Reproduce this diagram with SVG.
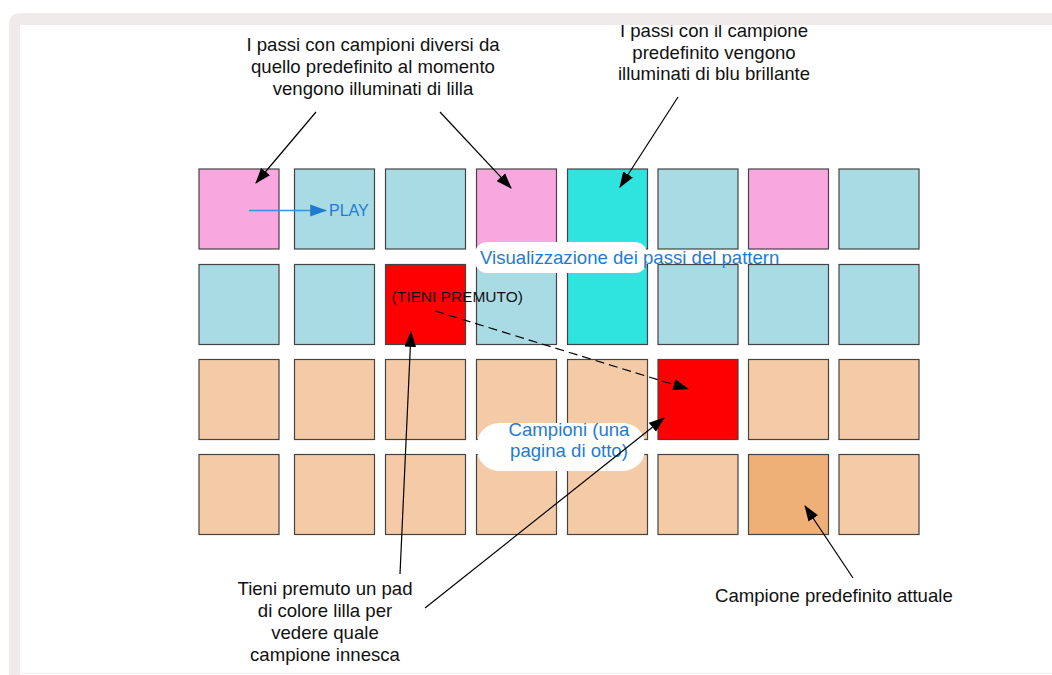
<svg xmlns="http://www.w3.org/2000/svg" width="1052" height="675" viewBox="0 0 1052 675">
  <defs>
    <marker id="arrow" viewBox="0 0 14 10" refX="13" refY="5" markerWidth="16" markerHeight="12" markerUnits="userSpaceOnUse" orient="auto">
      <path d="M0,0 L14,5 L0,10 z" fill="#000"/>
    </marker>
    <marker id="arrow-blue" viewBox="0 0 14 10" refX="13" refY="5" markerWidth="17" markerHeight="13" markerUnits="userSpaceOnUse" orient="auto">
      <path d="M0,0 L14,5 L0,10 z" fill="#1f7bd0"/>
    </marker>
  </defs>
  <style>
    .pad { stroke: #444; stroke-width: 1.2; }
    .lilac { fill: #f9a8df; }
    .step { fill: #a9dbe4; }
    .bright { fill: #2fe3df; }
    .held { fill: #ff0000; }
    .sample { fill: #f4cba6; }
    .current { fill: #efb077; }
    .label { font-family: "Liberation Sans", Arial, sans-serif; font-size: 18.6px; fill: #111; }
    .blue { font-family: "Liberation Sans", Arial, sans-serif; font-size: 18.6px; fill: #1f7bd0; }
    .small { font-size: 16px; }
    .tag { font-size: 15.5px; }
    .lead { stroke: #000; stroke-width: 1.2; fill: none; marker-end: url(#arrow); }
  </style>

  <rect x="0" y="0" width="1052" height="675" fill="#fff"/>

  <!-- pad grid: 8 x 4 -->
  <g id="pads">
    <g id="row1">
      <rect id="pad-1-1" class="pad lilac" x="199" y="169" width="80" height="80"/>
      <rect id="pad-1-2" class="pad step" x="294.5" y="169" width="80" height="80"/>
      <rect id="pad-1-3" class="pad step" x="385.5" y="169" width="80" height="80"/>
      <rect id="pad-1-4" class="pad lilac" x="476.5" y="169" width="80" height="80"/>
      <rect id="pad-1-5" class="pad bright" x="567.5" y="169" width="80" height="80"/>
      <rect id="pad-1-6" class="pad step" x="658" y="169" width="80" height="80"/>
      <rect id="pad-1-7" class="pad lilac" x="748.5" y="169" width="80" height="80"/>
      <rect id="pad-1-8" class="pad step" x="839" y="169" width="80" height="80"/>
    </g>
    <g id="row2">
      <rect id="pad-2-1" class="pad step" x="199" y="264.5" width="80" height="80"/>
      <rect id="pad-2-2" class="pad step" x="294.5" y="264.5" width="80" height="80"/>
      <rect id="pad-2-3" class="pad held" x="385.5" y="264.5" width="80" height="80"/>
      <rect id="pad-2-4" class="pad step" x="476.5" y="264.5" width="80" height="80"/>
      <rect id="pad-2-5" class="pad bright" x="567.5" y="264.5" width="80" height="80"/>
      <rect id="pad-2-6" class="pad step" x="658" y="264.5" width="80" height="80"/>
      <rect id="pad-2-7" class="pad step" x="748.5" y="264.5" width="80" height="80"/>
      <rect id="pad-2-8" class="pad step" x="839" y="264.5" width="80" height="80"/>
    </g>
    <g id="row3">
      <rect id="pad-3-1" class="pad sample" x="199" y="359.5" width="80" height="80"/>
      <rect id="pad-3-2" class="pad sample" x="294.5" y="359.5" width="80" height="80"/>
      <rect id="pad-3-3" class="pad sample" x="385.5" y="359.5" width="80" height="80"/>
      <rect id="pad-3-4" class="pad sample" x="476.5" y="359.5" width="80" height="80"/>
      <rect id="pad-3-5" class="pad sample" x="567.5" y="359.5" width="80" height="80"/>
      <rect id="pad-3-6" class="pad held" x="658" y="359.5" width="80" height="80"/>
      <rect id="pad-3-7" class="pad sample" x="748.5" y="359.5" width="80" height="80"/>
      <rect id="pad-3-8" class="pad sample" x="839" y="359.5" width="80" height="80"/>
    </g>
    <g id="row4">
      <rect id="pad-4-1" class="pad sample" x="199" y="454.5" width="80" height="80"/>
      <rect id="pad-4-2" class="pad sample" x="294.5" y="454.5" width="80" height="80"/>
      <rect id="pad-4-3" class="pad sample" x="385.5" y="454.5" width="80" height="80"/>
      <rect id="pad-4-4" class="pad sample" x="476.5" y="454.5" width="80" height="80"/>
      <rect id="pad-4-5" class="pad sample" x="567.5" y="454.5" width="80" height="80"/>
      <rect id="pad-4-6" class="pad sample" x="658" y="454.5" width="80" height="80"/>
      <rect id="pad-4-7" class="pad current" x="748.5" y="454.5" width="80" height="80"/>
      <rect id="pad-4-8" class="pad sample" x="839" y="454.5" width="80" height="80"/>
    </g>
  </g>

  <!-- section captions on white pills -->
  <g id="steps-caption">
    <rect x="475" y="242" width="172" height="31" rx="12" fill="#fff"/>
    <text class="blue" x="480" y="264">Visualizzazione dei passi del pattern</text>
  </g>
  <g id="samples-caption">
    <rect x="477" y="423" width="168" height="48" rx="22" fill="#fff"/>
    <text class="blue" text-anchor="middle" x="569" y="436">Campioni (una</text>
    <text class="blue" text-anchor="middle" x="569" y="457">pagina di otto)</text>
  </g>

  <g id="play-label">
    <text class="blue small" x="329" y="215.5">PLAY</text>
  </g>
  <g id="held-label">
    <text class="label tag" x="391.5" y="301.5">(TIENI PREMUTO)</text>
  </g>

  <!-- connectors -->
  <g id="connectors">
    <line x1="249" y1="210.5" x2="326" y2="210.5" stroke="#3b8fd9" stroke-width="1.3" marker-end="url(#arrow-blue)"/>
    <line class="lead" x1="316" y1="112" x2="256" y2="183"/>
    <line class="lead" x1="440" y1="112" x2="511" y2="188"/>
    <line class="lead" x1="678" y1="97" x2="620" y2="187"/>
    <line class="lead" x1="435" y1="311" x2="688" y2="389" stroke-dasharray="9,5" stroke-width="1.6"/>
    <line class="lead" x1="400" y1="574" x2="411" y2="332"/>
    <line class="lead" x1="425" y1="608" x2="664" y2="418"/>
    <line class="lead" x1="853" y1="578" x2="805" y2="506"/>
  </g>

  <!-- annotations -->
  <g id="note-lilac">
    <text class="label" text-anchor="middle" x="373" y="51">I passi con campioni diversi da</text>
    <text class="label" text-anchor="middle" x="373" y="73">quello predefinito al momento</text>
    <text class="label" text-anchor="middle" x="373" y="95">vengono illuminati di lilla</text>
  </g>
  <g id="note-bright">
    <text class="label" text-anchor="middle" x="714" y="37">I passi con il campione</text>
    <text class="label" text-anchor="middle" x="714" y="59">predefinito vengono</text>
    <text class="label" text-anchor="middle" x="714" y="80">illuminati di blu brillante</text>
  </g>
  <g id="note-hold">
    <text class="label" text-anchor="middle" x="325" y="595">Tieni premuto un pad</text>
    <text class="label" text-anchor="middle" x="325" y="617">di colore lilla per</text>
    <text class="label" text-anchor="middle" x="325" y="639">vedere quale</text>
    <text class="label" text-anchor="middle" x="325" y="661">campione innesca</text>
  </g>
  <g id="note-current">
    <text class="label" x="715" y="602">Campione predefinito attuale</text>
  </g>

  <!-- outer frame -->
  <g id="frame">
    <path d="M9,675 L9,25 Q9,13 21,13 L1052,13 L1052,25 L20,25 L20,675 Z" fill="#efebeb"/>
    <line x1="20" y1="673.5" x2="1052" y2="673.5" stroke="#f3f1f1" stroke-width="1.5"/>
  </g>
</svg>
